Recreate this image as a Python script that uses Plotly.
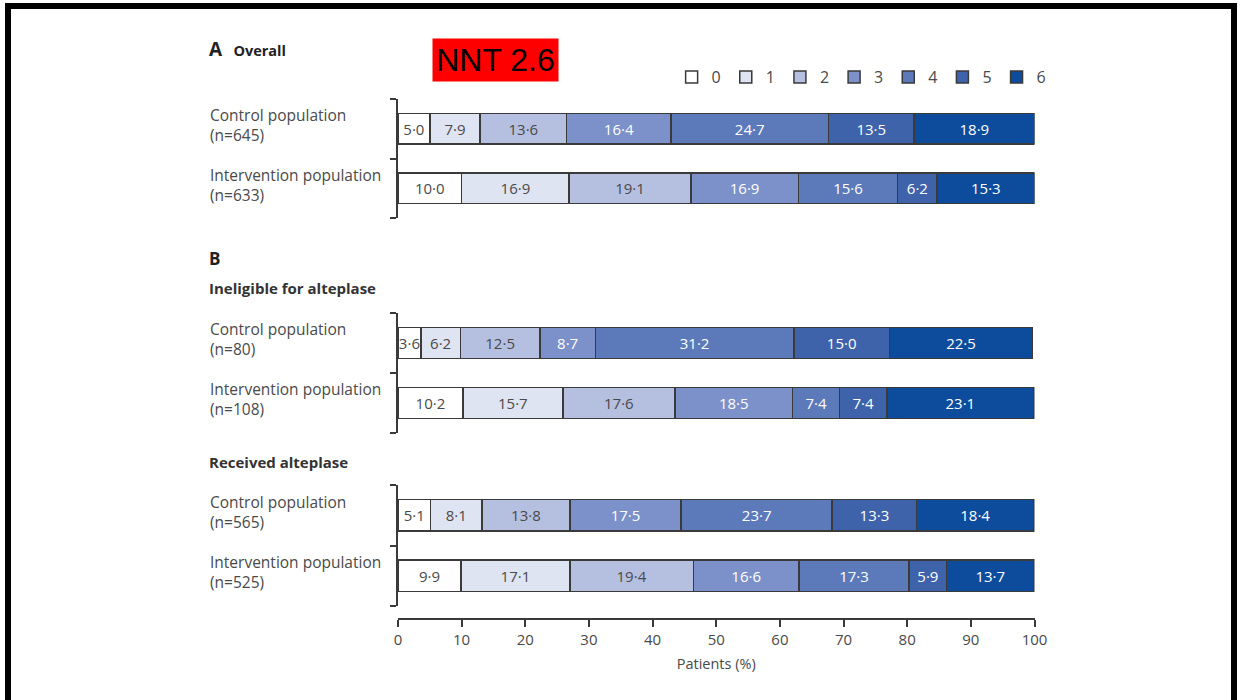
import plotly.graph_objects as go

# ── Data ──────────────────────────────────────────────────────────────────────
SCORES = ["0", "1", "2", "3", "4", "5", "6"]

ROW_LABELS_A = ["Control population<br>(n=645)", "Intervention population<br>(n=633)"]
ROW_LABELS_B1 = ["Control population<br>(n=80)", "Intervention population<br>(n=108)"]
ROW_LABELS_B2 = ["Control population<br>(n=565)", "Intervention population<br>(n=525)"]

OVERALL_CONTROL = [5.0, 7.9, 13.6, 16.4, 24.7, 13.5, 18.9]
OVERALL_INTERVENTION = [10.0, 16.9, 19.1, 16.9, 15.6, 6.2, 15.3]
INELIGIBLE_CONTROL = [3.6, 6.2, 12.5, 8.7, 31.2, 15.0, 22.5]
INELIGIBLE_INTERVENTION = [10.2, 15.7, 17.6, 18.5, 7.4, 7.4, 23.1]
RECEIVED_CONTROL = [5.1, 8.1, 13.8, 17.5, 23.7, 13.3, 18.4]
RECEIVED_INTERVENTION = [9.9, 17.1, 19.4, 16.6, 17.3, 5.9, 13.7]

X_TICKS = [0, 10, 20, 30, 40, 50, 60, 70, 80, 90, 100]

# ── Style ─────────────────────────────────────────────────────────────────────
W, H = 1250, 700
VIS_X0, VIS_W = 5, 1230  # where the page actually shows the paper horizontally
FONT = "Open Sans, Lato, sans-serif"
EDGE = "#3a3a3a"
GREY_TXT = "#4a4a4a"
SCORE_COLOURS = ["#ffffff", "#dfe4f2", "#b5bfe0", "#7c90c9", "#5c79ba", "#3e63aa", "#0d4c9c"]
SCORE_TEXT = [GREY_TXT, GREY_TXT, GREY_TXT, "white", "white", "white", "white"]


# screen pixel -> paper coordinate (margins are zero)
def px_x(p):
    return (p - VIS_X0) / VIS_W


def px_y(p):
    return 1 - p / H


panels = [
    ("y", (OVERALL_CONTROL, OVERALL_INTERVENTION), ROW_LABELS_A, (99, 218)),
    ("y2", (INELIGIBLE_CONTROL, INELIGIBLE_INTERVENTION), ROW_LABELS_B1, (313, 433)),
    ("y3", (RECEIVED_CONTROL, RECEIVED_INTERVENTION), ROW_LABELS_B2, (485, 606)),
]

fig = go.Figure()

for p_idx, (yref, rows, labels, _) in enumerate(panels):
    for k, score in enumerate(SCORES):
        vals = [rows[0][k], rows[1][k]]
        fig.add_trace(go.Bar(
            x=vals, y=[0, 1], orientation="h",
            yaxis=yref, xaxis="x",
            name=score, legendgroup=score, showlegend=(p_idx == 0),
            width=0.52,
            marker=dict(color=SCORE_COLOURS[k], line=dict(color=EDGE, width=1.5)),
            text=[f"{v:.1f}".replace(".", "·") for v in vals],
            textposition="inside", insidetextanchor="middle", textangle=0,
            textfont=dict(color=SCORE_TEXT[k], size=15, family=FONT),
            hoverinfo="skip",
        ))
    for i, lab in enumerate(labels):
        fig.add_annotation(
            x=px_x(209), xref="paper", y=i - 0.06, yref=yref,
            text=lab, showarrow=False, xanchor="left", yanchor="middle", align="left",
            font=dict(size=15.5, color=GREY_TXT, family=FONT),
        )

yaxis_common = dict(
    range=[1.5, -0.5], tickvals=[-0.5, 0.5, 1.5], ticks="outside", ticklen=6,
    tickcolor=EDGE, tickwidth=1.5, showticklabels=False, showline=True,
    linecolor=EDGE, linewidth=1.5, showgrid=False, zeroline=False, anchor="x",
)
layout_axes = {}
for n, (yref, _, _, (top, bottom)) in enumerate(panels):
    key = "yaxis" if n == 0 else f"yaxis{n + 1}"
    layout_axes[key] = dict(domain=[px_y(bottom), px_y(top)], **yaxis_common)

fig.update_layout(
    **layout_axes,
    xaxis=dict(
        domain=[px_x(398), px_x(1033)], range=[0, 100],
        tickvals=X_TICKS, ticks="outside", ticklen=7, tickcolor=EDGE, tickwidth=1.5,
        showline=True, linecolor=EDGE, linewidth=1.5, showgrid=False, zeroline=False,
        anchor="free", position=px_y(619),
        tickfont=dict(size=15, color=GREY_TXT, family=FONT),
        title=dict(text="Patients (%)", font=dict(size=14.5, color=GREY_TXT, family=FONT),
                   standoff=10),
    ),
    barmode="stack",
    width=W, height=H, autosize=False,
    margin=dict(l=0, r=0, t=0, b=0),
    paper_bgcolor="white", plot_bgcolor="white",
    font=dict(family=FONT, color=GREY_TXT),
    uniformtext=dict(mode="show", minsize=15),
    legend=dict(
        orientation="h", x=px_x(671), y=px_y(77), xanchor="left", yanchor="middle",
        font=dict(size=16, color=GREY_TXT, family=FONT),
        itemwidth=30, traceorder="normal", bgcolor="rgba(0,0,0,0)",
    ),
)

# Panel headings
heading = dict(xref="paper", yref="paper", showarrow=False, xanchor="left", yanchor="middle")
fig.add_annotation(x=px_x(208), y=px_y(49),
                   text="<span style='font-size:19px'><b>A</b></span>   <b>Overall</b>",
                   font=dict(size=14.5, color="#222222", family=FONT), **heading)
fig.add_annotation(x=px_x(208), y=px_y(258), text="<b>B</b>",
                   font=dict(size=17, color="#222222", family=FONT), **heading)
fig.add_annotation(x=px_x(208), y=px_y(288), text="<b>Ineligible for alteplase</b>",
                   font=dict(size=15, color="#333333", family=FONT), **heading)
fig.add_annotation(x=px_x(208), y=px_y(462), text="<b>Received alteplase</b>",
                   font=dict(size=15, color="#333333", family=FONT), **heading)

# NNT badge
fig.add_annotation(
    x=px_x(495), y=px_y(60), xref="paper", yref="paper", showarrow=False,
    xanchor="center", yanchor="middle",
    text="NNT 2.6", width=125, height=42, bgcolor="#ff0000", borderpad=0,
    font=dict(size=32, color="black", family="Liberation Sans Narrow, Liberation Sans, Arial"),
)

# Outer black frame (right side drawn at the visible edge)
fig.add_shape(type="rect", xref="paper", yref="paper",
              x0=px_x(9), x1=px_x(VIS_X0 + VIS_W - 3), y0=-0.05, y1=px_y(6),
              line=dict(color="black", width=6))

# drop the page's default body margin so the figure sits at 0,0
POST = (
    "document.body.style.margin='0';"
    "document.body.style.overflow='hidden';"
)
fig.write_html("out.html", config={"displayModeBar": False}, post_script=POST)
